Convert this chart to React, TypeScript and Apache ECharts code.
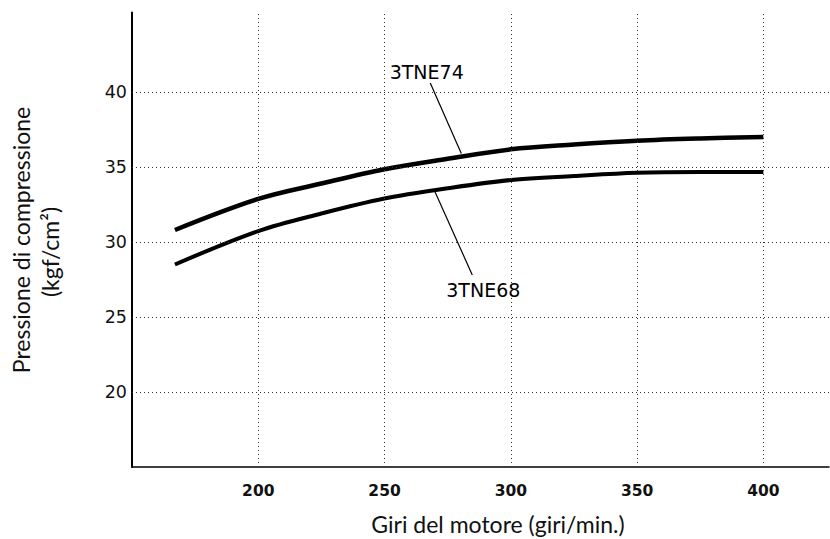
import React, { useEffect, useRef } from "react";
import * as echarts from "echarts";

// Engine speed (giri/min) and compression pressure (kgf/cm²)
const rpm = [167, 200, 225, 250, 275, 300, 325, 350, 375, 400];
const p3TNE74 = [30.8, 32.87, 33.9, 34.85, 35.55, 36.18, 36.5, 36.75, 36.9, 37.0];
const p3TNE68 = [28.5, 30.73, 31.9, 32.9, 33.58, 34.13, 34.4, 34.62, 34.67, 34.67];

const xTicks = [200, 250, 300, 350, 400];
const yTicks = [20, 25, 30, 35, 40];

// Leader lines: [from, to] in data coordinates, and the label anchor
const leader74 = [[268.1, 40.6], [280.4, 35.9]];
const label74 = [266.7, 41.33];
const leader68 = [[269.7, 33.45], [284.75, 27.8]];
const label68 = [289.1, 26.8];

const xTitle = "Giri del motore (giri/min.)";
const yTitle1 = "Pressione di compressione";
const yTitle2 = "(kgf/cm\u00B2)";

const gridDot = { color: "#333", width: 1, type: [1, 3] as number[] };

export default function App() {
  const ref = useRef<HTMLDivElement>(null);

  useEffect(() => {
    if (!ref.current) return;
    const chart = echarts.init(ref.current, undefined, { renderer: "svg" });

    const pair = (xs: number[], ys: number[]) => xs.map((x, i) => [x, ys[i]]);

    const annotation = (text: string) => ({
      show: true,
      position: "inside",
      color: "#000",
      fontFamily: "DejaVu Sans",
      fontSize: 19,
      formatter: text,
    });

    chart.setOption({
      animation: false,
      backgroundColor: "#fff",
      grid: { left: 132, top: 12.5, width: 697, height: 454.5, containLabel: false },
      xAxis: {
        type: "value",
        min: 150,
        max: 426,
        interval: 50,
        axisLine: { lineStyle: { color: "#000", width: 1.5 } },
        axisTick: { show: false },
        splitLine: { show: false },
        axisLabel: {
          margin: 16,
          color: "#111",
          fontFamily: "DejaVu Sans",
          fontWeight: "bold",
          fontSize: 15.5,
          showMaxLabel: false,
          formatter: (v: number) => (xTicks.includes(v) ? String(v) : ""),
        },
      },
      yAxis: {
        type: "value",
        min: 15,
        max: 45.3,
        interval: 5,
        axisLine: { show: true, lineStyle: { color: "#000", width: 2 } },
        axisTick: { show: false },
        splitLine: { show: false },
        axisLabel: {
          margin: 5,
          color: "#111",
          fontFamily: "DejaVu Sans",
          fontSize: 17.5,
          showMaxLabel: false,
          formatter: (v: number) => (yTicks.includes(v) ? String(v) : ""),
        },
      },
      series: [
        {
          name: "grid",
          type: "line",
          data: [],
          silent: true,
          markLine: {
            silent: true,
            symbol: "none",
            label: { show: false },
            lineStyle: gridDot,
            data: [
              ...xTicks.map((v) => ({ xAxis: v })),
              ...yTicks.map((v) => ({ yAxis: v })),
            ],
          },
        },
        {
          name: "3TNE74",
          type: "line",
          data: pair(rpm, p3TNE74),
          smooth: 0.35,
          showSymbol: false,
          lineStyle: { color: "#000", width: 4.5 },
          markLine: {
            silent: true,
            symbol: "none",
            label: { show: false },
            lineStyle: { color: "#000", width: 1.2, type: "solid" },
            data: [[{ coord: leader74[0] }, { coord: leader74[1] }]],
          },
          markPoint: {
            symbol: "circle",
            symbolSize: 0,
            label: annotation("3TNE74"),
            data: [{ coord: label74 }],
          },
        },
        {
          name: "3TNE68",
          type: "line",
          data: pair(rpm, p3TNE68),
          smooth: 0.35,
          showSymbol: false,
          lineStyle: { color: "#000", width: 4 },
          markLine: {
            silent: true,
            symbol: "none",
            label: { show: false },
            lineStyle: { color: "#000", width: 1.2, type: "solid" },
            data: [[{ coord: leader68[0] }, { coord: leader68[1] }]],
          },
          markPoint: {
            symbol: "circle",
            symbolSize: 0,
            label: annotation("3TNE68"),
            data: [{ coord: label68 }],
          },
        },
      ],
      graphic: [
        {
          type: "text",
          x: 498,
          y: 524,
          style: {
            text: xTitle,
            fill: "#111",
            font: "23px Lato",
            align: "center",
            verticalAlign: "middle",
          },
        },
        {
          type: "text",
          x: 21,
          y: 240,
          rotation: Math.PI / 2,
          style: {
            text: yTitle1,
            fill: "#111",
            font: "23px Lato",
            align: "center",
            verticalAlign: "middle",
          },
        },
        {
          type: "text",
          x: 50,
          y: 252,
          rotation: Math.PI / 2,
          style: {
            text: yTitle2,
            fill: "#111",
            font: "23px Lato",
            align: "center",
            verticalAlign: "middle",
          },
        },
      ],
    });

    return () => chart.dispose();
  }, []);

  return (
    <div
      ref={ref}
      style={{ position: "fixed", left: 0, top: 0, width: 830, height: 539, background: "#fff" }}
    />
  );
}
